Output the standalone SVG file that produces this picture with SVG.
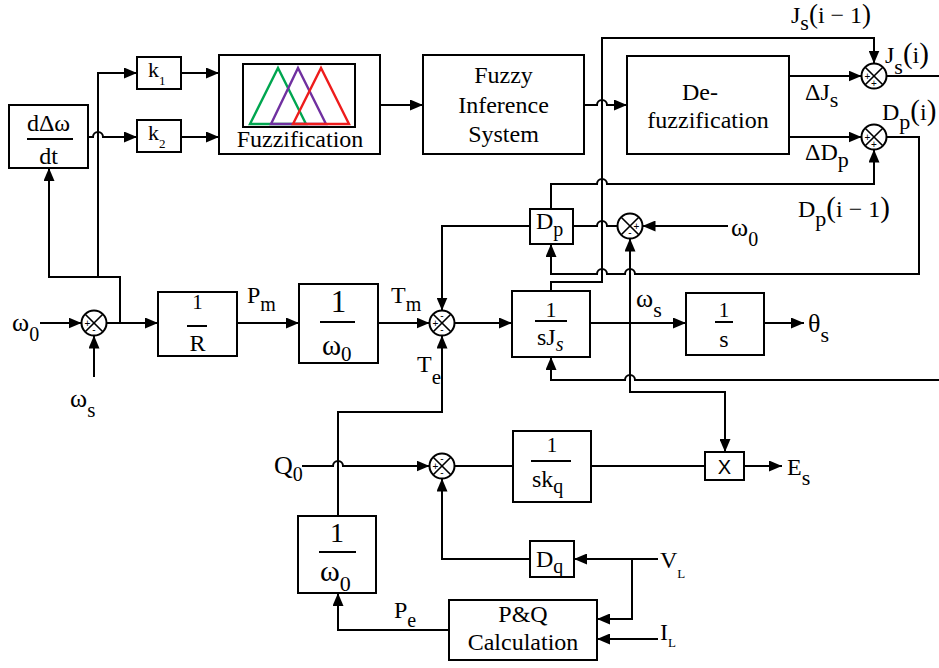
<svg xmlns="http://www.w3.org/2000/svg" xmlns:xlink="http://www.w3.org/1999/xlink" width="939" height="668" viewBox="0 0 939 668" font-family="'Liberation Serif', 'Times New Roman', serif">
<defs>
<style>
.bx{fill:#fff;stroke:#000;stroke-width:2}
.ln{fill:none;stroke:#000;stroke-width:2}
.ar{fill:none;stroke:#000;stroke-width:2;marker-end:url(#ah)}
text{font-family:'Liberation Serif','Times New Roman',serif}
.t{fill:#000}
text.sg{font-family:'Liberation Sans',Arial,sans-serif;font-size:10px;fill:#000;text-anchor:middle}
text.sans{font-family:'Liberation Sans',Arial,sans-serif}
.m{text-anchor:middle}
</style>
<marker id="ah" markerUnits="userSpaceOnUse" markerWidth="13" markerHeight="11" refX="13" refY="5.5" orient="auto">
<path d="M0,0 L13,5.5 L0,11 z" fill="#000"/>
</marker>
<g id="sum">
<circle cx="0" cy="0" r="12.5" fill="#fff" stroke="#000" stroke-width="2"/>
<path d="M-8.8,-8.8 L8.8,8.8 M8.8,-8.8 L-8.8,8.8" stroke="#000" stroke-width="1.6"/>
</g>
</defs>
<rect x="0" y="0" width="939" height="668" fill="#fff"/>

<g id="connectors">
<path class="ar" d="M40,323 H81.5"/>
<path class="ar" d="M94,377 V335.5"/>
<path class="ar" d="M106.5,323 H158"/>
<path class="ar" d="M120,323 V277 H49 V168"/>
<path class="ar" d="M98,277 V73 H137"/>
<path class="ar" d="M88,137 H93 A5,5 0 0 1 103,137 H137"/>
<path class="ar" d="M181,73 H219"/>
<path class="ar" d="M181,137 H219"/>
<path class="ar" d="M380,105 H423"/>
<path class="ar" d="M584,105 H597 A5,5 0 0 1 607,105 H627"/>
<path class="ar" d="M789,76 H861.5"/>
<path class="ar" d="M789,137 H861.5"/>
<path class="ar" d="M551,291 V282 H602 V38 H874 V63.5"/>
<path class="ln" d="M886.5,76 H939"/>
<path class="ar" d="M886.5,137 H919 V274 H635 A5,5 0 0 0 625,274 H607 A5,5 0 0 0 597,274 H551 V244"/>
<path class="ar" d="M551,209 V184 H597 A5,5 0 0 1 607,184 H874 V149.5"/>
<path class="ar" d="M530,226 H442 V310.5"/>
<path class="ln" d="M617.5,226 H607 A5,5 0 0 0 597,226 H573"/>
<path class="ar" d="M728,226 H642.5"/>
<path class="ar" d="M630,323 V238.5"/>
<path class="ar" d="M630,323 V392 H725 V452"/>
<path class="ar" d="M237,323 H299"/>
<path class="ar" d="M378,323 H429.5"/>
<path class="ar" d="M454.5,323 H512"/>
<path class="ar" d="M590,323 H686"/>
<path class="ar" d="M764,323 H804"/>
<path class="ar" d="M939,380 H635 A5,5 0 0 0 625,380 H551 V357"/>
<path class="ar" d="M338,516 V412 H442 V335.5"/>
<path class="ar" d="M302,466 H333 A5,5 0 0 1 343,466 H429.5"/>
<path class="ln" d="M454.5,466 H513"/>
<path class="ln" d="M591,466 H705"/>
<path class="ar" d="M744,466 H782"/>
<path class="ar" d="M530,559 H442 V478.5"/>
<path class="ar" d="M658,559 H574"/>
<path class="ar" d="M632,559 V619 H597"/>
<path class="ar" d="M658,639 H597"/>
<path class="ar" d="M449,630 H338 V593"/>
</g>

<g id="ddt">
<rect class="bx" x="9" y="105" width="79" height="63"/>
<text class="t m" x="48.5" y="131" font-size="24">dΔω</text>
<line class="ln" x1="27" y1="139" x2="73" y2="139"/>
<text class="t m" x="48.5" y="164" font-size="24">dt</text>
</g>
<g id="k1">
<rect class="bx" x="137" y="57" width="44" height="32"/>
<text class="t" x="148" y="77" font-size="22">k<tspan font-size="13" dy="8">1</tspan></text>
</g>
<g id="k2">
<rect class="bx" x="137" y="120" width="44" height="32"/>
<text class="t" x="148" y="140" font-size="22">k<tspan font-size="13" dy="8">2</tspan></text>
</g>
<g id="fuzzification">
<rect class="bx" x="219" y="55" width="161" height="99"/>
<rect class="bx" x="243" y="64" width="112" height="63"/>
<polygon points="250,124 278,68 306,124" fill="none" stroke="#00a650" stroke-width="2.4"/>
<polygon points="271,124 298,68 326,124" fill="none" stroke="#7030a0" stroke-width="2.4"/>
<polygon points="293,124 321,68 349,124" fill="none" stroke="#ee1c1c" stroke-width="2.4"/>
<text class="t m" x="300" y="147" font-size="24">Fuzzification</text>
</g>
<g id="fis">
<rect class="bx" x="423" y="55" width="161" height="99"/>
<text class="t m" x="503.5" y="83" font-size="24">Fuzzy</text>
<text class="t m" x="503.5" y="112.5" font-size="24">Inference</text>
<text class="t m" x="503.5" y="141.5" font-size="24">System</text>
</g>
<g id="defuzzification">
<rect class="bx" x="627" y="56" width="162" height="98"/>
<text class="t m" x="700" y="100" font-size="24">De-</text>
<text class="t m" x="708" y="128" font-size="24">fuzzification</text>
</g>

<g id="sum1">
<use xlink:href="#sum" href="#sum" transform="translate(94,323)"/>
<text class="sg" x="87.5" y="326.5">+</text>
<text class="sg" x="94" y="333">-</text>
</g>
<g id="sum2">
<use xlink:href="#sum" href="#sum" transform="translate(442,323)"/>
<text class="sg" x="435.5" y="326.5">+</text>
<text class="sg" x="442" y="319">-</text>
<text class="sg" x="442" y="333">-</text>
</g>
<g id="sum3">
<use xlink:href="#sum" href="#sum" transform="translate(630,226)"/>
<text class="sg" x="636.5" y="229.5">+</text>
<text class="sg" x="630" y="236">-</text>
</g>
<g id="sum4">
<use xlink:href="#sum" href="#sum" transform="translate(874,76)"/>
<text class="sg" x="867.5" y="79.5">+</text>
<text class="sg" x="874" y="86.5">+</text>
</g>
<g id="sum5">
<use xlink:href="#sum" href="#sum" transform="translate(874,137)"/>
<text class="sg" x="867.5" y="140.5">+</text>
<text class="sg" x="874" y="147.5">+</text>
</g>
<g id="sum6">
<use xlink:href="#sum" href="#sum" transform="translate(442,466)"/>
<text class="sg" x="435.5" y="469.5">+</text>
<text class="sg" x="442" y="462">-</text>
<text class="sg" x="442" y="476">-</text>
</g>

<g id="gainR">
<rect class="bx" x="158" y="292" width="79" height="64"/>
<text class="t m" x="197.5" y="309" font-size="21">1</text>
<line class="ln" x1="187" y1="326" x2="207" y2="326"/>
<text class="t m" x="197.5" y="351" font-size="24">R</text>
</g>
<g id="gainW0top">
<rect class="bx" x="299" y="284" width="79" height="79"/>
<text class="t m" x="338.5" y="312" font-size="31">1</text>
<line class="ln" x1="320" y1="322" x2="355" y2="322"/>
<text class="t" x="322" y="355" font-size="29">ω<tspan font-size="21" dy="6">0</tspan></text>
</g>
<g id="dp">
<rect class="bx" x="530" y="209" width="43" height="35"/>
<text class="t" x="536" y="229" font-size="24">D<tspan font-size="20" dy="7">p</tspan></text>
</g>
<g id="integJ">
<rect class="bx" x="512" y="291" width="78" height="66"/>
<text class="t m" x="551" y="316.5" font-size="22">1</text>
<line class="ln" x1="535" y1="321" x2="567" y2="321"/>
<text class="t" x="537" y="345" font-size="24">sJ<tspan font-size="20" font-style="italic" dy="6">s</tspan></text>
</g>
<g id="integ">
<rect class="bx" x="686" y="293" width="78" height="62"/>
<text class="t m" x="724" y="316.5" font-size="21">1</text>
<line class="ln" x1="715" y1="322" x2="733" y2="322"/>
<text class="t m" x="724" y="346.5" font-size="24">s</text>
</g>
<g id="integK">
<rect class="bx" x="513" y="431" width="78" height="71"/>
<text class="t m" x="552" y="452" font-size="21">1</text>
<line class="ln" x1="531" y1="461" x2="571" y2="461"/>
<text class="t" x="532" y="487" font-size="24">sk<tspan font-size="20" dy="6">q</tspan></text>
</g>
<g id="mult">
<rect class="bx" x="705" y="452" width="39" height="28"/>
<text class="sans" x="724.5" y="474" font-size="20" text-anchor="middle">X</text>
</g>
<g id="gainW0bottom">
<rect class="bx" x="298" y="516" width="78" height="77"/>
<text class="t m" x="337" y="542" font-size="28">1</text>
<line class="ln" x1="319" y1="552" x2="356" y2="552"/>
<text class="t" x="320" y="581" font-size="30">ω<tspan font-size="22" dy="10">0</tspan></text>
</g>
<g id="dq">
<rect class="bx" x="530" y="541" width="44" height="36"/>
<text class="t" x="536" y="567" font-size="24">D<tspan font-size="20" dy="6">q</tspan></text>
</g>
<g id="pq">
<rect class="bx" x="449" y="600" width="148" height="60"/>
<text class="t m" x="523" y="622" font-size="24">P&amp;Q</text>
<text class="t m" x="523" y="650" font-size="24">Calculation</text>
</g>

<g id="labels">
<text class="t" x="12" y="331" font-size="26">ω<tspan font-size="20" dy="10">0</tspan></text>
<text class="t" x="70" y="407" font-size="26">ω<tspan font-size="21" dy="10">s</tspan></text>
<text class="t" x="247" y="303" font-size="24">P<tspan font-size="20" dy="8">m</tspan></text>
<text class="t" x="391" y="303" font-size="24">T<tspan font-size="20" dy="8">m</tspan></text>
<text class="t" x="417" y="372" font-size="24">T<tspan font-size="21" dy="12">e</tspan></text>
<text class="t" x="636" y="307" font-size="26">ω<tspan font-size="22" dy="10">s</tspan></text>
<text class="t" x="808" y="332" font-size="26">θ<tspan font-size="22" dy="10">s</tspan></text>
<text class="t" x="731" y="236" font-size="26">ω<tspan font-size="20" dy="10">0</tspan></text>
<text class="t" x="274" y="474" font-size="26">Q<tspan font-size="20" dy="7">0</tspan></text>
<text class="t" x="787" y="475" font-size="24">E<tspan font-size="22" dy="10">s</tspan></text>
<text class="t" x="394" y="618" font-size="24">P<tspan font-size="20" dy="9">e</tspan></text>
<text class="t" x="660" y="568" font-size="24">V<tspan font-size="13" dy="10">L</tspan></text>
<text class="t" x="660" y="640" font-size="24">I<tspan font-size="13" dy="7">L</tspan></text>
<text class="t" x="791" y="23" font-size="24">J<tspan font-size="22" dy="7">s</tspan><tspan font-size="27" dy="-7">(</tspan>i − 1<tspan font-size="27">)</tspan></text>
<text class="t" x="885" y="63" font-size="24">J<tspan font-size="22" dy="11">s</tspan><tspan font-size="29" dy="-11">(</tspan>i<tspan font-size="29">)</tspan></text>
<text class="t" x="805" y="100" font-size="24">ΔJ<tspan font-size="22" dy="7">s</tspan></text>
<text class="t" x="805" y="160" font-size="24">ΔD<tspan font-size="22" dy="7">p</tspan></text>
<text class="t" x="882" y="120" font-size="24">D<tspan font-size="22" dy="9">p</tspan><tspan font-size="29" dy="-9">(</tspan>i<tspan font-size="29">)</tspan></text>
<text class="t" x="798" y="217" font-size="24">D<tspan font-size="22" dy="9">p</tspan><tspan font-size="29" dy="-9">(</tspan>i − 1<tspan font-size="29">)</tspan></text>
</g>
</svg>
